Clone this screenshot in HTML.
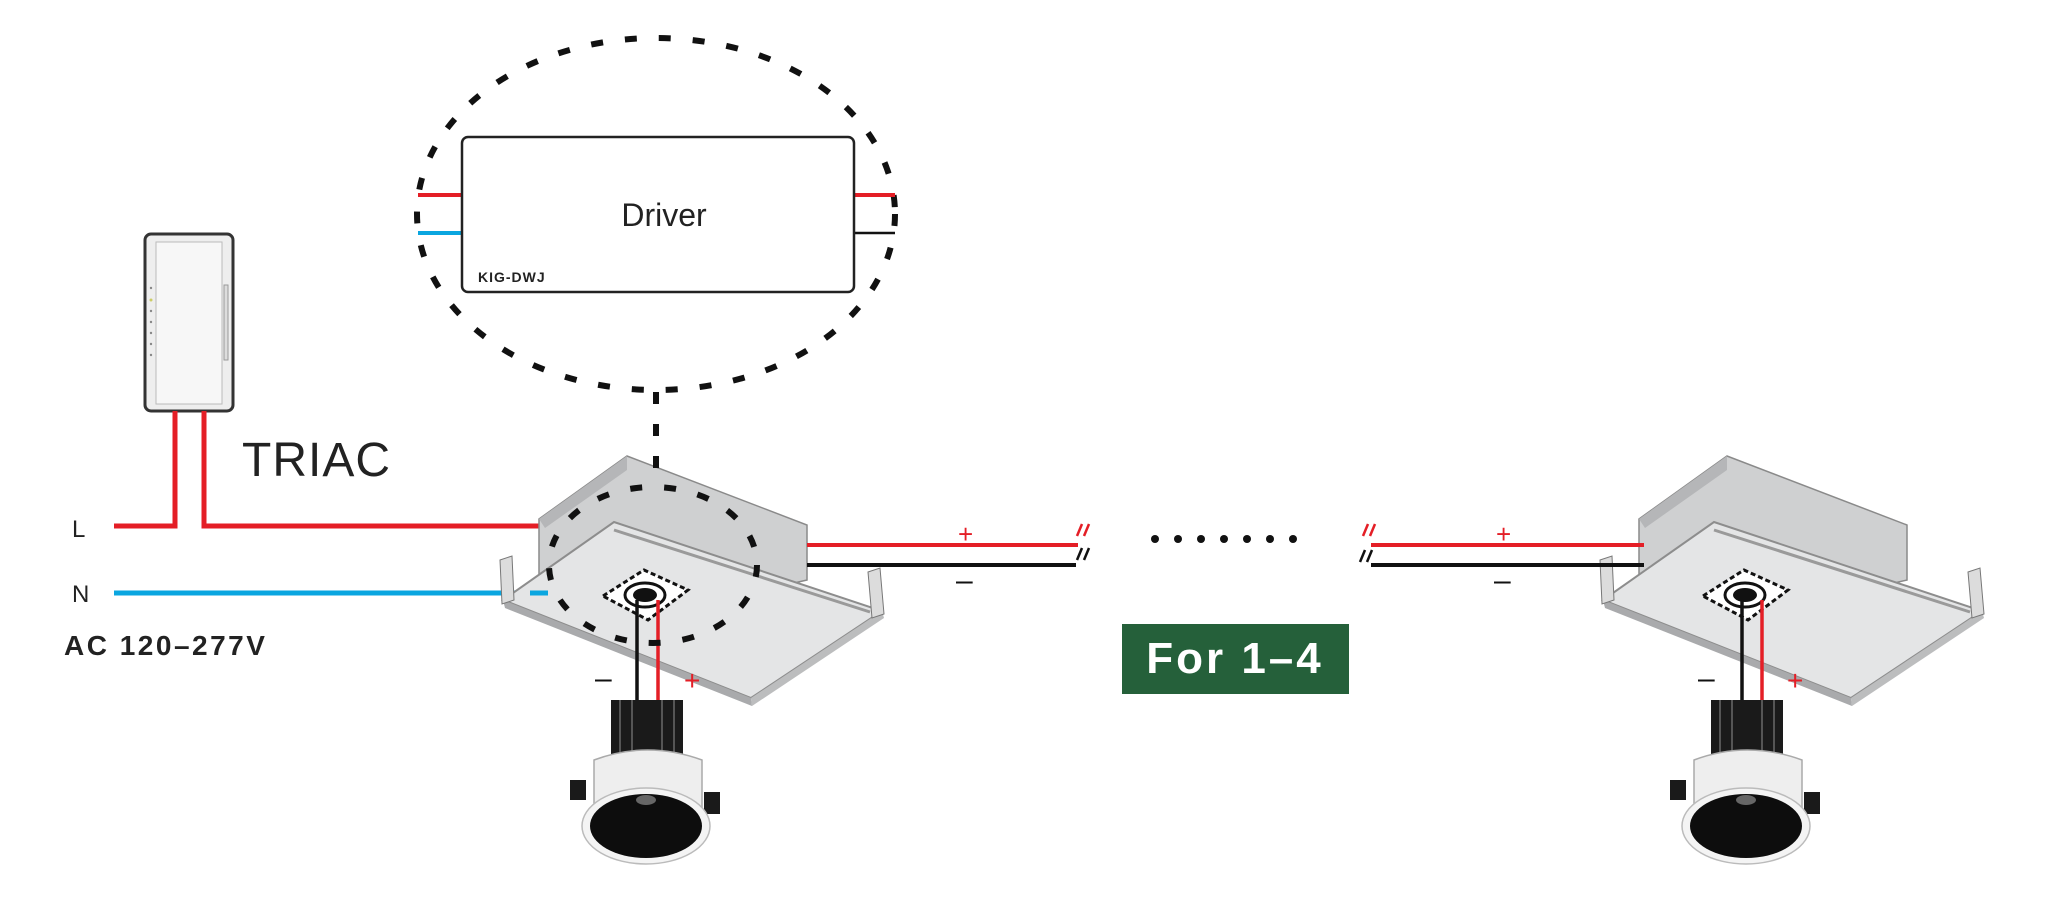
<!DOCTYPE html>
<html><head><meta charset="utf-8"><style>
html,body{margin:0;padding:0;background:#fff;}
svg{display:block;}
text{font-family:"Liberation Sans",sans-serif;}
</style></head><body>
<svg width="2048" height="904" viewBox="0 0 2048 904" xmlns="http://www.w3.org/2000/svg">
<defs>
<g id="housing">
  <polygon points="539,519 627,456 807,525 807,580 720,600 539,606" fill="#cfd0d1" stroke="#8a8a8a" stroke-width="1.5"/>
  <polygon points="539,519 627,456 627,470 545,528" fill="#b5b6b8"/>
  <polygon points="503,600 614,522 882,611 751,698" fill="#e4e5e6" stroke="#8d8d8d" stroke-width="2"/>
  <polygon points="503,600 751,698 752,706 505,608" fill="#a9aaac"/>
  <polygon points="751,698 882,611 884,618 752,706" fill="#bcbdbe"/>
  <line x1="614" y1="530" x2="870" y2="612" stroke="#9a9a9a" stroke-width="3"/>
  <polygon points="500,560 512,556 514,600 502,604" fill="#dcdcdc" stroke="#777"/>
  <polygon points="868,572 880,568 884,614 872,618" fill="#dcdcdc" stroke="#777"/>
  <polygon points="603,596 644,570 688,590 648,620" fill="#fff" stroke="#111" stroke-width="3" stroke-dasharray="5 3"/>
  <ellipse cx="645" cy="595" rx="20" ry="12" fill="#fff" stroke="#111" stroke-width="3"/>
  <ellipse cx="645" cy="595" rx="12" ry="7" fill="#111"/>
</g>
<g id="lamp">
  <rect x="611" y="700" width="72" height="55" fill="#1a1a1a"/>
  <g stroke="#555" stroke-width="2"><line x1="620" y1="700" x2="620" y2="752"/><line x1="632" y1="700" x2="632" y2="752"/><line x1="662" y1="700" x2="662" y2="752"/><line x1="674" y1="700" x2="674" y2="752"/></g>
  <rect x="570" y="780" width="16" height="20" fill="#1a1a1a"/>
  <rect x="704" y="792" width="16" height="22" fill="#1a1a1a"/>
  <path d="M594,760 Q647,740 702,760 L702,815 L594,815 Z" fill="#eeeeee" stroke="#aaa" stroke-width="1.5"/>
  <ellipse cx="646" cy="826" rx="64" ry="38" fill="#f4f4f4" stroke="#bbb" stroke-width="1.5"/>
  <ellipse cx="646" cy="826" rx="56" ry="32" fill="#0d0d0d"/>
  <ellipse cx="646" cy="800" rx="10" ry="5" fill="#666"/>
</g>
</defs>

<rect x="145" y="234" width="88" height="177" rx="6" fill="#eee" stroke="#333" stroke-width="3"/>
<rect x="156" y="242" width="66" height="162" fill="#f7f7f7" stroke="#bbb" stroke-width="1"/>
<rect x="224" y="285" width="4" height="75" fill="#ddd" stroke="#999" stroke-width="1"/>
<g fill="#888"><circle cx="151" cy="288" r="1.2"/><circle cx="151" cy="300" r="1.5" fill="#cc6"/><circle cx="151" cy="311" r="1.2"/><circle cx="151" cy="322" r="1.2"/><circle cx="151" cy="333" r="1.2"/><circle cx="151" cy="344" r="1.2"/><circle cx="151" cy="355" r="1.2"/></g>

<polyline points="114,526 175,526 175,411" fill="none" stroke="#e41e26" stroke-width="5"/>
<polyline points="204,411 204,526 540,526" fill="none" stroke="#e41e26" stroke-width="5"/>
<line x1="114" y1="593" x2="530" y2="593" stroke="#0aa6e0" stroke-width="5"/>
<text x="72" y="537" font-size="24" fill="#222">L</text>
<text x="72" y="602" font-size="24" fill="#222">N</text>
<text x="64" y="655" font-size="28" font-weight="bold" fill="#222" letter-spacing="2.5">AC  120–277V</text>
<text x="242" y="476" font-size="48" fill="#222" letter-spacing="1">TRIAC</text>

<use href="#housing"/>
<use href="#housing" transform="translate(1100,0)"/>
<line x1="530" y1="593" x2="548" y2="593" stroke="#0aa6e0" stroke-width="5"/>

<line x1="637" y1="600" x2="637" y2="702" stroke="#111" stroke-width="3.5"/>
<line x1="658" y1="600" x2="658" y2="702" stroke="#e41e26" stroke-width="3.5"/>
<use href="#lamp"/>
<text x="595" y="688" font-size="30" fill="#111">–</text>
<text x="684" y="690" font-size="28" fill="#e41e26">+</text>

<line x1="1742" y1="600" x2="1742" y2="702" stroke="#111" stroke-width="3.5"/>
<line x1="1762" y1="600" x2="1762" y2="702" stroke="#e41e26" stroke-width="3.5"/>
<use href="#lamp" transform="translate(1100,0)"/>
<text x="1698" y="688" font-size="30" fill="#111">–</text>
<text x="1787" y="690" font-size="28" fill="#e41e26">+</text>

<line x1="807" y1="545" x2="1078" y2="545" stroke="#e41e26" stroke-width="4"/>
<line x1="807" y1="565" x2="1076" y2="565" stroke="#111" stroke-width="4"/>
<g stroke="#e41e26" stroke-width="2.5"><line x1="1077" y1="536" x2="1082" y2="524"/><line x1="1084" y1="536" x2="1089" y2="524"/><line x1="1363" y1="536" x2="1368" y2="524"/><line x1="1370" y1="536" x2="1375" y2="524"/></g>
<g stroke="#111" stroke-width="2.5"><line x1="1077" y1="560" x2="1082" y2="548"/><line x1="1084" y1="560" x2="1089" y2="548"/><line x1="1360" y1="562" x2="1365" y2="550"/><line x1="1367" y1="562" x2="1372" y2="550"/></g>
<line x1="1371" y1="545" x2="1644" y2="545" stroke="#e41e26" stroke-width="4"/>
<line x1="1371" y1="565" x2="1644" y2="565" stroke="#111" stroke-width="4"/>
<text x="958" y="543" font-size="26" fill="#e41e26">+</text>
<text x="956" y="590" font-size="30" fill="#111">–</text>
<text x="1496" y="543" font-size="26" fill="#e41e26">+</text>
<text x="1494" y="590" font-size="30" fill="#111">–</text>
<g fill="#111"><circle cx="1155" cy="539" r="4"/><circle cx="1178" cy="539" r="4"/><circle cx="1201" cy="539" r="4"/><circle cx="1224" cy="539" r="4"/><circle cx="1247" cy="539" r="4"/><circle cx="1270" cy="539" r="4"/><circle cx="1293" cy="539" r="4"/></g>

<rect x="1122" y="624" width="227" height="70" fill="#25603a"/>
<text x="1235" y="673" font-size="44" font-weight="bold" fill="#fff" text-anchor="middle" letter-spacing="3">For 1–4</text>

<ellipse cx="656" cy="214" rx="239" ry="176" fill="none" stroke="#111" stroke-width="6" stroke-dasharray="12 22"/>
<line x1="656" y1="392" x2="656" y2="487" stroke="#111" stroke-width="6" stroke-dasharray="12 20"/>
<ellipse cx="653" cy="565" rx="104" ry="78" fill="none" stroke="#111" stroke-width="6" stroke-dasharray="12 22"/>
<line x1="418" y1="195" x2="462" y2="195" stroke="#e41e26" stroke-width="4"/>
<line x1="418" y1="233" x2="462" y2="233" stroke="#0aa6e0" stroke-width="4"/>
<line x1="854" y1="195" x2="895" y2="195" stroke="#e41e26" stroke-width="4"/>
<line x1="854" y1="233" x2="895" y2="233" stroke="#111" stroke-width="2.5"/>
<rect x="462" y="137" width="392" height="155" rx="6" fill="#fff" stroke="#222" stroke-width="2.5"/>
<text x="664" y="226" font-size="32" fill="#222" text-anchor="middle">Driver</text>
<text x="478" y="282" font-size="14" font-weight="bold" fill="#222" letter-spacing="1">KIG-DWJ</text>
</svg>
</body></html>
